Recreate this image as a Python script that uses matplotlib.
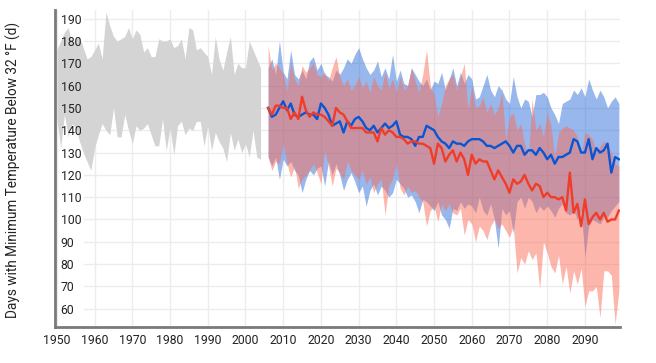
import numpy as np
import matplotlib
matplotlib.use("Agg")
import matplotlib.pyplot as plt

plt.rcParams['font.family'] = ['Roboto', 'DejaVu Sans']

# observed range (gray), 1950-2004
obs_years = list(range(1950, 2005))
obs_high = [176, 180, 184, 186, 179, 181, 182, 177, 172, 173,
            176, 179, 172, 193, 187, 182, 180, 181, 182, 186,
            181, 185, 183, 175, 177, 173, 173, 181, 180, 180,
            181, 177, 178, 181, 172, 186, 185, 176, 177, 175,
            173, 165, 182, 172, 167, 175, 182, 165, 170, 168,
            168, 180, 176, 172, 168]
obs_low = [145, 132, 147, 137, 143, 141, 135, 130, 126, 122,
           132, 138, 143, 140, 138, 150, 137, 137, 147, 140,
           134, 142, 140, 141, 143, 138, 133, 133, 145, 131,
           141, 129, 142, 144, 138, 141, 140, 144, 144, 133,
           142, 131, 139, 135, 132, 126, 139, 131, 136, 130,
           134, 128, 140, 128, 127]

# projections, 2006-2099
proj_years = list(range(2006, 2100))

blue_mean = [150, 146, 147, 150, 153, 149, 152, 147, 146, 147,
             148, 147, 147, 145, 152, 150, 147, 142, 143, 144,
             139, 144, 142, 145, 146, 144, 141, 140, 142, 139,
             141, 143, 141, 142, 144, 138, 137, 137, 136, 133,
             137, 137, 142, 141, 140, 137, 135, 134, 132, 135,
             134, 134, 133, 135, 136, 136, 136, 135, 133, 133,
             132, 133, 134, 135, 133, 130, 133, 133, 129, 131,
             131, 129, 132, 130, 127, 129, 125, 128, 128, 129,
             130, 136, 135, 130, 130, 136, 127, 132, 130, 131,
             134, 121, 128, 127]
blue_high = [168, 172, 165, 180, 166, 163, 176, 165, 163, 167,
             163, 171, 173, 167, 170, 165, 164, 162, 167, 165,
             168, 172, 170, 174, 177, 172, 168, 165, 167, 171,
             164, 168, 163, 174, 162, 167, 161, 160, 168, 165,
             162, 160, 163, 158, 162, 161, 166, 158, 163, 168,
             160, 166, 161, 165, 163, 154, 155, 160, 165, 158,
             155, 160, 158, 154, 152, 164, 155, 150, 154, 153,
             146, 156, 156, 157, 155, 150, 147, 143, 152, 153,
             154, 158, 156, 159, 155, 163, 158, 154, 158, 155,
             150, 153, 155, 152]
blue_low = [128, 124, 128, 118, 127, 124, 126, 122, 120, 112,
            118, 122, 120, 123, 124, 115, 126, 120, 125, 120,
            113, 118, 121, 117, 112, 115, 106, 113, 116, 111,
            115, 113, 110, 112, 118, 116, 114, 110, 111, 108,
            103, 109, 108, 106, 104, 108, 102, 100, 96, 105,
            104, 108, 105, 107, 106, 103, 110, 104, 102, 107,
            100, 87, 105, 102, 104, 94, 108, 110, 105, 110,
            108, 103, 106, 104, 106, 104, 101, 105, 107, 103,
            102, 104, 100, 104, 83, 97, 100, 99, 98, 101,
            101, 104, 106, 108]

red_mean = [150, 147, 151, 151, 150, 150, 145, 148, 145, 155,
            149, 146, 148, 147, 147, 146, 144, 142, 150, 148,
            147, 144, 141, 141, 141, 141, 139, 139, 139, 135,
            141, 138, 140, 139, 137, 137, 136, 134, 135, 135,
            134, 134, 133, 132, 125, 134, 132, 126, 129, 131,
            126, 130, 127, 120, 129, 125, 127, 126, 126, 122,
            118, 122, 119, 116, 112, 118, 116, 117, 120, 116,
            113, 116, 115, 110, 112, 110, 110, 109, 110, 104,
            121, 103, 107, 97, 109, 98, 101, 103, 100, 103,
            99, 100, 100, 104]
red_high = [178, 167, 170, 168, 165, 158, 170, 163, 160, 169,
            166, 168, 170, 165, 164, 166, 162, 168, 173, 164,
            160, 163, 158, 160, 164, 159, 162, 157, 164, 160,
            158, 166, 159, 163, 157, 164, 158, 160, 168, 162,
            157, 165, 176, 160, 156, 146, 152, 160, 163, 165,
            158, 164, 170, 149, 160, 150, 151, 155, 148, 152,
            147, 150, 157, 136, 146, 148, 140, 143, 134, 128,
            154, 140, 143, 137, 148, 142, 128, 139, 141, 142,
            141, 140, 137, 128, 139, 138, 136, 130, 133, 135,
            134, 130, 125, 124]
red_low = [128, 122, 126, 125, 134, 125, 119, 124, 114, 118,
           120, 122, 125, 121, 116, 131, 124, 115, 123, 121,
           118, 126, 122, 120, 118, 122, 116, 119, 112, 116,
           118, 102, 115, 118, 125, 114, 111, 115, 112, 113,
           110, 108, 97, 104, 106, 99, 107, 104, 107, 103,
           102, 105, 93, 100, 98, 90, 97, 95, 91, 97,
           100, 96, 98, 95, 92, 97, 76, 83, 80, 86,
           82, 85, 69, 90, 85, 79, 76, 84, 71, 79,
           67, 77, 71, 78, 61, 68, 68, 70, 56, 77,
           77, 75, 53, 68]

x_ticks = list(range(1950, 2100, 10))
y_ticks = list(range(60, 200, 10))

gray = '#d4d4d4'
blue = '#0a55d2'
red = '#f03c28'
red_fill = '#fa6e5a'
axis_col = '#7a7a7a'
grid_col = '#ececec'
text_col = '#222222'

fig = plt.figure(figsize=(6.56, 3.63), dpi=100)
ax = fig.add_axes([55 / 656, 1 - 327 / 363, 565 / 656, 317 / 363])

# light grid, horizontal lines start right of the inside tick labels
for y in y_ticks:
    ax.axhline(y, xmin=0.052, xmax=1, color=grid_col, lw=1, zorder=0)
for x in x_ticks:
    ax.axvline(x, color=grid_col, lw=1, zorder=0)

ax.fill_between(obs_years, obs_low, obs_high, color=gray, lw=0, zorder=1)
ax.fill_between(proj_years, blue_low, blue_high, color=blue, alpha=0.42, lw=0, zorder=2)
ax.fill_between(proj_years, red_low, red_high, color=red_fill, alpha=0.5, lw=0, zorder=3)
ax.plot(proj_years, blue_mean, color=blue, lw=1.7, zorder=4)
ax.plot(proj_years, red_mean, color=red, lw=1.7, zorder=5)

ax.set_xlim(1949.5, 2099.3)
ax.set_ylim(51.8, 193.9)
ax.set_xticks(x_ticks)
ax.set_yticks(y_ticks)

for s in ['top', 'right']:
    ax.spines[s].set_visible(False)
for s in ['left', 'bottom']:
    ax.spines[s].set_color(axis_col)
    ax.spines[s].set_linewidth(2)
    ax.spines[s].set_zorder(6)

ax.tick_params(axis='x', length=0, pad=5, labelsize=8.8, labelcolor=text_col)
ax.tick_params(axis='y', length=0, pad=-4, labelsize=8.8, labelcolor=text_col)
for lab in ax.get_yticklabels():
    lab.set_horizontalalignment('left')
    lab.set_zorder(7)

fig.text(13 / 656, 1 - 170 / 363, 'Days with Minimum Temperature Below 32 °F (d)',
         rotation=90, ha='center', va='center', fontsize=9.8, color=text_col)

fig.savefig('out.png', dpi=100)
